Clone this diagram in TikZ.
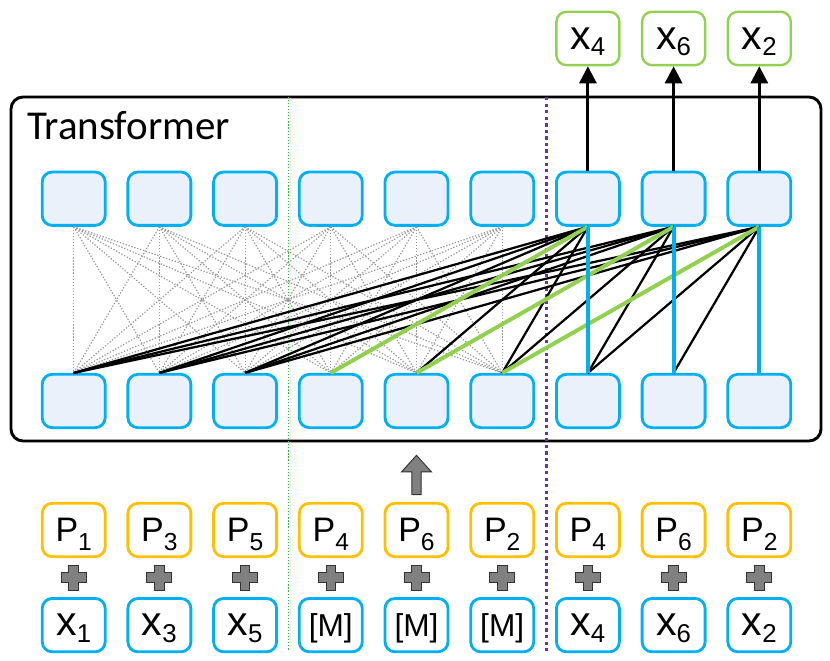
\documentclass[tikz,border=0pt]{standalone}
\usepackage{fontspec}
\setmainfont{Liberation Sans}
\newfontfamily\titlefont{Carlito}
\usepackage{tikz}
\usetikzlibrary{positioning, arrows.meta, calc}

\definecolor{boxblue}{RGB}{0,176,240}
\definecolor{boxfill}{RGB}{234,241,250}
\definecolor{posorange}{RGB}{255,192,0}
\definecolor{predgreen}{RGB}{146,208,80}
\definecolor{splitgreen}{RGB}{60,190,60}
\definecolor{splitpurple}{RGB}{112,48,160}
\definecolor{attgray}{RGB}{150,150,150}
\definecolor{plusgray}{RGB}{128,128,128}

\newcommand{\tokl}[2]{{\fontsize{35}{35}\selectfont #1}\raisebox{-2mm}{\fontsize{22}{22}\selectfont #2}}
\newcommand{\posl}[1]{{\fontsize{29}{29}\selectfont P}\raisebox{-2.5mm}{\fontsize{21}{21}\selectfont #1}}
\newcommand{\maskl}{{\fontsize{27}{27}\selectfont [M]}}

\tikzset{
  cellbox/.style={draw, rounded corners=3mm, line width=2.4pt, minimum width=18.9mm, minimum height=16mm, inner sep=0pt, text depth=0pt},
  hidbox/.style={cellbox, draw=boxblue, fill=boxfill},
  tokbox/.style={cellbox, draw=boxblue, fill=white},
  posbox/.style={cellbox, draw=posorange, fill=white},
  outbox/.style={cellbox, draw=predgreen, line width=2pt, fill=white},
  ctxline/.style={attgray, line width=1pt, dash pattern=on 1.1pt off 1.5pt},
  attline/.style={black, line width=1.9pt},
  ownline/.style={predgreen, line width=3.4pt},
  selfline/.style={boxblue, line width=3.4pt},
  outarrow/.style={black, line width=2.5pt, -{Triangle[width=5.1mm,length=5.1mm]}},
  plussign/.style={fill=plusgray, draw=black!80, line width=0.8pt, line join=miter},
}

\begin{document}
\begin{tikzpicture}[x=0.3mm, y=0.3mm]
\useasboundingbox (0,0) rectangle (830,660);

\draw[line width=2.5pt, rounded corners=3.6mm] (11,219) rectangle (821,563);
\node[anchor=base west, inner sep=0pt, font=\titlefont\fontsize{35}{35}\selectfont] (title) at (27,520) {Transformer};

\draw[splitgreen, line width=1pt, dash pattern=on 1pt off 1.6pt] (288.7,563) -- (288.7,10);
\draw[splitpurple, line width=2.8pt, dash pattern=on 2.8pt off 2.8pt] (546.5,563) -- (546.5,8);

\foreach \i in {1,...,9} {
  \node[hidbox] (t\i) at ({73.7+85.7*(\i-1)},461.3) {};
  \node[hidbox] (b\i) at ({73.7+85.7*(\i-1)},259) {};
}

\foreach \i/\p in {1/1,2/3,3/5,4/4,5/6,6/2,7/4,8/6,9/2}
  \node[posbox] (p\i) at ({73.7+85.7*(\i-1)},130) {\posl{\p}};

\node[tokbox, below=11.7mm of p1] (x1) {\tokl{x}{1}};
\node[tokbox, below=11.7mm of p2] (x2) {\tokl{x}{3}};
\node[tokbox, below=11.7mm of p3] (x3) {\tokl{x}{5}};
\node[tokbox, below=11.7mm of p4] (x4) {\maskl};
\node[tokbox, below=11.7mm of p5] (x5) {\maskl};
\node[tokbox, below=11.7mm of p6] (x6) {\maskl};
\node[tokbox, below=11.7mm of p7] (x7) {\tokl{x}{4}};
\node[tokbox, below=11.7mm of p8] (x8) {\tokl{x}{6}};
\node[tokbox, below=11.7mm of p9] (x9) {\tokl{x}{2}};

\node[outbox, above=31.3mm of t7] (o7) {\tokl{x}{4}};
\node[outbox, above=31.3mm of t8] (o8) {\tokl{x}{6}};
\node[outbox, above=31.3mm of t9] (o9) {\tokl{x}{2}};

\foreach \i in {7,8,9}
  \draw[outarrow] (t\i) -- (o\i);

\foreach \i in {1,...,6}
  \foreach \j in {1,...,6}
    \draw[ctxline] (t\i.south) -- (b\j.north);

\foreach \j in {1,2,3,5,6} \draw[attline] (t7.south) -- (b\j.north);
\foreach \j in {1,2,3,6,7} \draw[attline] (t8.south) -- (b\j.north);
\foreach \j in {1,2,3,7,8} \draw[attline] (t9.south) -- (b\j.north);

\draw[ownline] (t7.south) -- (b4.north);
\draw[ownline] (t8.south) -- (b5.north);
\draw[ownline] (t9.south) -- (b6.north);

\foreach \i in {7,8,9}
  \draw[selfline] (t\i) -- (b\i);

\foreach \i in {1,...,9}
  \draw[plussign, shift={($(p\i.south)!0.5!(x\i.north)$)}]
    (-4.8,-12.5) -- (4.8,-12.5) -- (4.8,-4.8) -- (12.5,-4.8) -- (12.5,4.8) -- (4.8,4.8)
    -- (4.8,12.5) -- (-4.8,12.5) -- (-4.8,4.8) -- (-12.5,4.8) -- (-12.5,-4.8) -- (-4.8,-4.8) -- cycle;

\draw[plussign, shift={(p5.north)}]
  (-4.7,7.3) -- (4.7,7.3) -- (4.7,30) -- (15,30) -- (0,46.6) -- (-15,30) -- (-4.7,30) -- cycle;
\end{tikzpicture}
\end{document}
